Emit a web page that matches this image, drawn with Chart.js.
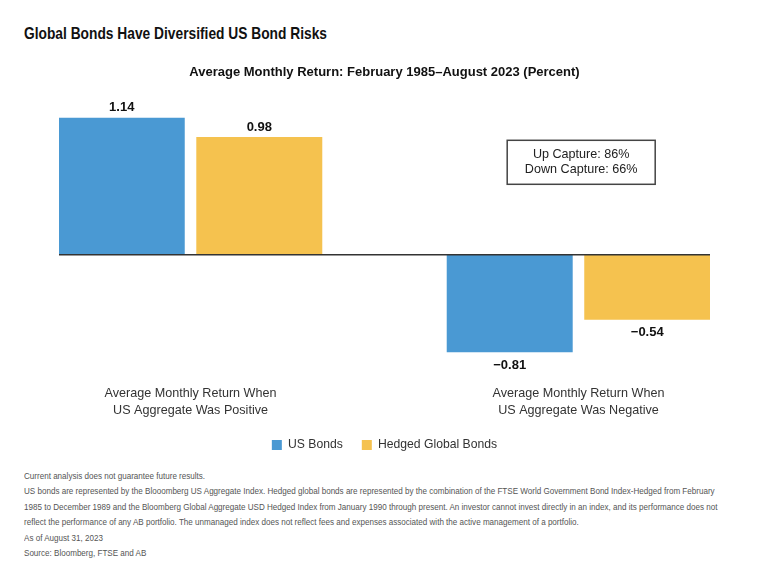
<!DOCTYPE html>
<html>
<head>
<meta charset="utf-8">
<script src="https://cdn.jsdelivr.net/npm/chart.js@4.4.0/dist/chart.umd.min.js"></script>
<style>
  body { margin: 0; background: #fff; width: 765px; height: 566px; position: relative; overflow: hidden; }
  #title { position: absolute; left: 24px; top: 24px; font: bold 17px "Liberation Sans", Arial, sans-serif; color: #111; transform: scaleX(0.81); transform-origin: left top; white-space: nowrap; }
  #wrap { position: absolute; left: 0; top: 50px; width: 765px; height: 415px; }
  #notes { position: absolute; left: 24px; top: 469px; font: 9px "Liberation Sans", Arial, sans-serif; color: #555; line-height: 15.4px; white-space: nowrap; transform: scaleX(0.896); transform-origin: left top; }
</style>
</head>
<body>
<div id="title">Global Bonds Have Diversified US Bond Risks</div>
<div id="wrap"><canvas id="chart"></canvas></div>
<div id="notes">
Current analysis does not guarantee future results.<br>
US bonds are represented by the Blooomberg US Aggregate Index. Hedged global bonds are represented by the combination of the FTSE World Government Bond Index-Hedged from February<br>
1985 to December 1989 and the Bloomberg Global Aggregate USD Hedged Index from January 1990 through present. An investor cannot invest directly in an index, and its performance does not<br>
reflect the performance of any AB portfolio. The unmanaged index does not reflect fees and expenses associated with the active management of a portfolio.<br>
As of August 31, 2023<br>
Source: Bloomberg, FTSE and AB
</div>
<script>
// categories (x positions 0 and 1 on the linear axis)
const groupLabels = [
    ['Average Monthly Return When', 'US Aggregate Was Positive'],
    ['Average Monthly Return When', 'US Aggregate Was Negative']
];
const usBonds = [1.14, -0.81];
const hedgedGlobal = [0.98, -0.54];
const captureText = ['Up Capture: 86%', 'Down Capture: 66%'];

const BLUE = '#4A99D3';
const YELLOW = '#F5C24F';

// valores encima / debajo de cada barra
const barLabels = {
    id: 'barLabels',
    afterDatasetsDraw(chart){
        const { ctx } = chart;
        ctx.save();
        ctx.font = 'bold 13px "Liberation Sans", Arial, sans-serif';
        ctx.fillStyle = '#111';
        ctx.textAlign = 'center';
        ctx.textBaseline = 'middle';
        chart.data.datasets.forEach((ds, i) => {
            chart.getDatasetMeta(i).data.forEach((bar, j) => {
                const v = ds.data[j].y;
                const txt = v < 0 ? '\u2212' + Math.abs(v).toFixed(2) : v.toFixed(2);
                const yy = v < 0 ? bar.y + 13 : bar.y - 10;
                ctx.fillText(txt, bar.x, yy);
            });
        });
        ctx.restore();
    }
}

// linea del cero + cuadro de captura
const zeroAndBox = {
    id: 'zeroAndBox',
    afterDatasetsDraw(chart){
        const { ctx, chartArea: {left, right}, scales: {x, y} } = chart;
        const y0 = y.getPixelForValue(0);
        ctx.save();
        ctx.beginPath();
        ctx.lineWidth = 1.5;
        ctx.strokeStyle = '#333';
        ctx.moveTo(left, y0);
        ctx.lineTo(right, y0);
        ctx.stroke();

        const cx = x.getPixelForValue(1.007);
        const cy = y.getPixelForValue(0.77);
        const w = 148, h = 44;
        ctx.lineWidth = 1.5;
        ctx.strokeStyle = '#444';
        ctx.strokeRect(cx - w / 2, cy - h / 2, w, h);
        ctx.font = '12.6px "Liberation Sans", Arial, sans-serif';
        ctx.fillStyle = '#222';
        ctx.textAlign = 'center';
        ctx.textBaseline = 'middle';
        ctx.fillText(captureText[0], cx, cy - 7.5);
        ctx.fillText(captureText[1], cx, cy + 7.5);
        ctx.restore();
    }
}

const data = {
    datasets: [{
        label: 'US Bonds',
        data: usBonds.map((v, i) => ({x: i, y: v})),
        backgroundColor: BLUE,
        borderWidth: 0,
    }, {
        label: 'Hedged Global Bonds',
        data: hedgedGlobal.map((v, i) => ({x: i, y: v})),
        backgroundColor: YELLOW,
        borderWidth: 0,
    }]
}

const config = {
    type: 'bar',
    data,
    options: {
        responsive: true,
        maintainAspectRatio: false,
        animation: false,
        categoryPercentage: 0.709,
        barPercentage: 0.916,
        layout: {
            padding: { top: 0, right: 55, bottom: 4, left: 59 }
        },
        scales: {
            x: {
                type: 'linear',
                offset: false,
                min: -0.339,
                max: 1.339,
                afterBuildTicks: (axis) => { axis.ticks = [{value: 0}, {value: 1}]; },
                afterFit: (axis) => { axis.height -= 9; },
                grid: { display: false, drawTicks: false },
                border: { display: false },
                ticks: {
                    padding: 10,
                    color: '#333',
                    font: { size: 12.6, family: '"Liberation Sans", Arial, sans-serif', lineHeight: 1.34 },
                    maxRotation: 0,
                    callback: (v) => groupLabels[v]
                }
            },
            y: {
                display: false,
                min: -1.0,
                max: 1.3
            }
        },
        plugins: {
            title: {
                display: true,
                text: 'Average Monthly Return: February 1985\u2013August 2023 (Percent)',
                color: '#111',
                font: { size: 13, weight: 'bold', family: '"Liberation Sans", Arial, sans-serif' },
                padding: { top: 15, bottom: 18 }
            },
            legend: {
                position: 'bottom',
                labels: {
                    boxWidth: 10,
                    boxHeight: 10,
                    padding: 19,
                    color: '#333',
                    font: { size: 12.2, family: '"Liberation Sans", Arial, sans-serif' }
                }
            },
            tooltip: { enabled: false }
        }
    },
    plugins: [barLabels, zeroAndBox],
}
var chart = document.getElementById('chart');
var myChart = new Chart(chart, config);
</script>
</body>
</html>
